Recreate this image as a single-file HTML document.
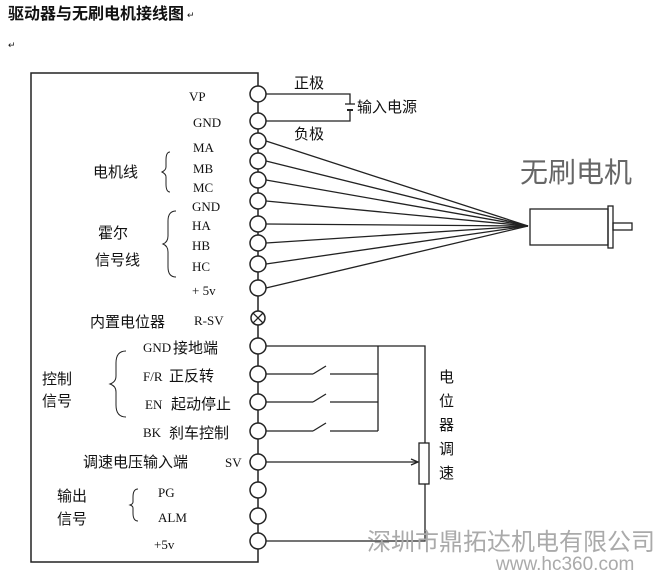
<!DOCTYPE html>
<html><head><meta charset="utf-8"><style>
html,body{margin:0;padding:0;background:#fff;}
svg{display:block;}
text{font-family:"Liberation Serif","Noto Serif CJK SC",serif;fill:#111;}
.c{font-family:"Liberation Sans","Noto Sans CJK SC",sans-serif;}
</style></head><body>
<svg width="659" height="574" viewBox="0 0 659 574" xmlns="http://www.w3.org/2000/svg">
<text x="8" y="19" class="c" font-size="16" font-weight="bold">驱动器与无刷电机接线图</text>
<text x="187" y="18" font-size="9" fill="#888">↵</text>
<text x="8" y="48" font-size="9" fill="#888">↵</text>
<g stroke="#222" stroke-width="1.5" fill="none">
<path d="M258 87 V73 H31 V562 H258 V549"/>
<line x1="258" y1="101" x2="258" y2="534"/>
</g>
<g stroke="#222" stroke-width="1.5" fill="#fff">
<circle cx="258" cy="94" r="8"/><circle cx="258" cy="121" r="8"/>
<circle cx="258" cy="141" r="8"/><circle cx="258" cy="161" r="8"/>
<circle cx="258" cy="180" r="8"/><circle cx="258" cy="201" r="8"/>
<circle cx="258" cy="224" r="8"/><circle cx="258" cy="243" r="8"/>
<circle cx="258" cy="264" r="8"/><circle cx="258" cy="288" r="8"/>
<circle cx="258" cy="318" r="7"/>
<circle cx="258" cy="346" r="8"/><circle cx="258" cy="374" r="8"/>
<circle cx="258" cy="402" r="8"/><circle cx="258" cy="431" r="8"/>
<circle cx="258" cy="462" r="8"/><circle cx="258" cy="490" r="8"/>
<circle cx="258" cy="516" r="8"/><circle cx="258" cy="541" r="8"/>
</g>
<g stroke="#222" stroke-width="1.3" fill="none">
<line x1="253" y1="313" x2="263" y2="323"/><line x1="263" y1="313" x2="253" y2="323"/>
<path d="M266 94 H350 V104 M266 121 H350 V111"/>
<line x1="345" y1="104" x2="355" y2="104"/><line x1="347" y1="110" x2="353" y2="110" stroke-width="2"/>
<line x1="266" y1="141" x2="528" y2="226"/><line x1="266" y1="161" x2="528" y2="226"/>
<line x1="266" y1="180" x2="528" y2="226"/><line x1="266" y1="201" x2="528" y2="226"/>
<line x1="266" y1="224" x2="528" y2="226"/><line x1="266" y1="243" x2="528" y2="226"/>
<line x1="266" y1="264" x2="528" y2="226"/><line x1="266" y1="288" x2="528" y2="226"/>
<rect x="530" y="209" width="78" height="36"/>
<rect x="608" y="206" width="5" height="42"/>
<rect x="613" y="223" width="19" height="7"/>
<path d="M266 346 H425 V443 M425 484 V541 H266"/>
<rect x="419" y="443" width="10" height="41"/>
<path d="M378 346 V431"/>
<path d="M266 374 H313 M330 374 H378 M266 402 H313 M330 402 H378 M266 431 H313 M330 431 H378"/>
<line x1="313" y1="374" x2="326" y2="366"/><line x1="313" y1="402" x2="326" y2="394"/><line x1="313" y1="431" x2="326" y2="423"/>
<path d="M266 462 H417"/>
<path d="M411 459 L418 462 L411 465"/>
<path d="M170 152 q-4 0 -4 8 v7 q0 3 -4 5 q4 2 4 5 v7 q0 8 4 8" stroke-width="1"/>
<path d="M176 211 q-8 0 -8 10 v15 q0 6 -5 8 q5 2 5 8 v15 q0 10 8 10" stroke-width="1"/>
<path d="M126 351 q-10 0 -10 12 v13 q0 6 -6 8 q6 2 6 8 v13 q0 12 10 12" stroke-width="1"/>
<path d="M138 489 q-5 0 -5 8 v5 q0 2 -3 3 q3 1 3 3 v5 q0 8 5 8" stroke-width="1"/>
</g>
<g font-size="13">
<text x="189" y="101">VP</text><text x="193" y="127">GND</text>
<text x="193" y="152">MA</text><text x="193" y="173">MB</text><text x="193" y="192">MC</text>
<text x="192" y="211">GND</text><text x="192" y="230">HA</text><text x="192" y="250">HB</text>
<text x="192" y="271">HC</text><text x="192" y="295">+ 5v</text>
<text x="194" y="325">R-SV</text>
<text x="143" y="352">GND</text><text x="143" y="381">F/R</text><text x="145" y="409">EN</text><text x="143" y="437">BK</text>
<text x="225" y="467">SV</text>
<text x="158" y="497">PG</text><text x="158" y="522">ALM</text><text x="154" y="549">+5v</text>
</g>
<g class="c" font-size="15">
<text x="294" y="88" class="c">正极</text><text x="294" y="139" class="c">负极</text>
<text x="357" y="112" class="c">输入电源</text>
<text x="93" y="177" class="c">电机线</text>
<text x="98" y="238" class="c">霍尔</text><text x="95" y="265" class="c">信号线</text>
<text x="90" y="327" class="c">内置电位器</text>
<text x="173" y="353" class="c">接地端</text>
<text x="169" y="381" class="c">正反转</text>
<text x="171" y="409" class="c">起动停止</text>
<text x="169" y="438" class="c">刹车控制</text>
<text x="83" y="467" class="c">调速电压输入端</text>
<text x="42" y="384" class="c">控制</text><text x="42" y="406" class="c">信号</text>
<text x="57" y="501" class="c">输出</text><text x="57" y="524" class="c">信号</text>
<text x="439" y="382" class="c">电</text><text x="439" y="406" class="c">位</text>
<text x="439" y="430" class="c">器</text><text x="439" y="454" class="c">调</text>
<text x="439" y="478" class="c">速</text>
</g>
<text x="520" y="182" class="c" font-size="28" style="fill:#666">无刷电机</text>
<text x="367" y="550" class="c" font-size="24" style="fill:#aaa">深圳市鼎拓达机电有限公司</text>
<text x="496" y="570" class="c" font-size="19" style="fill:#aaa">www.hc360.com</text>
</svg>
</body></html>
